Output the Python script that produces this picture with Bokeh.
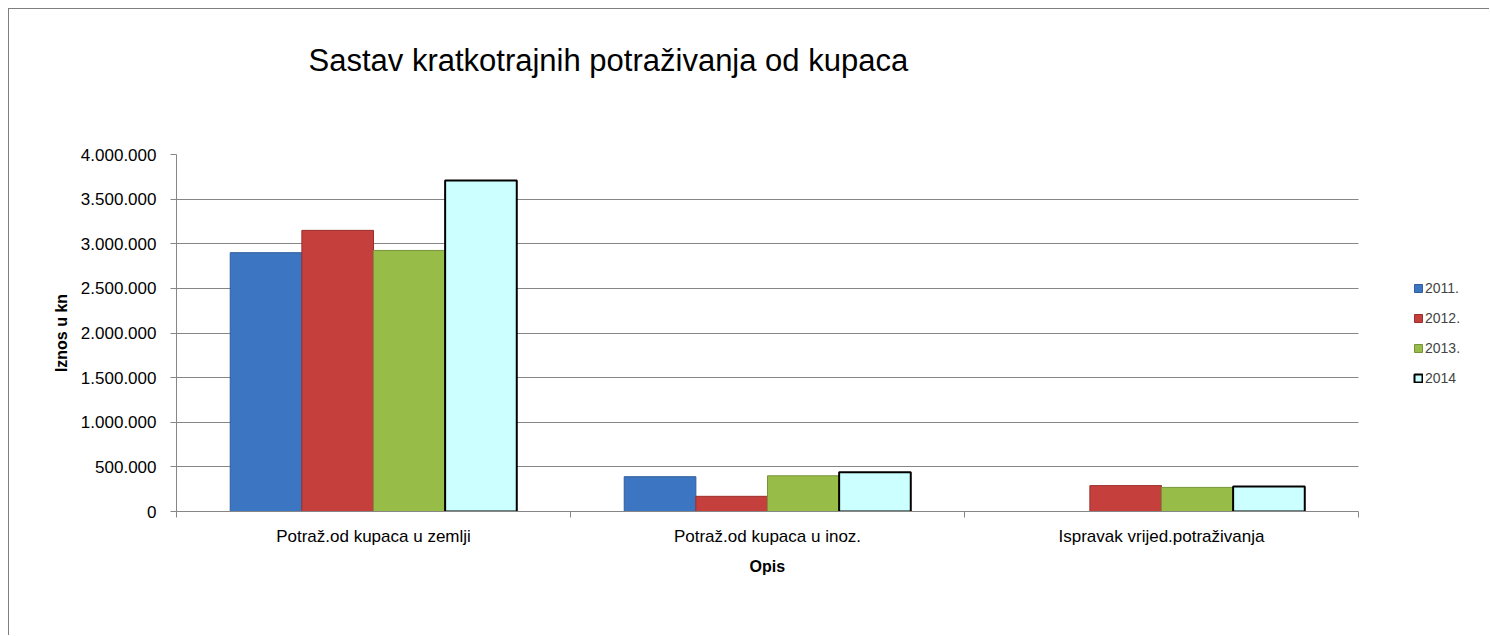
from bokeh.plotting import figure
from bokeh.models import (ColumnDataSource, Range1d, FixedTicker, Legend, LegendItem, Title)
from bokeh.transform import dodge
from bokeh.embed import file_html
from bokeh.resources import INLINE

# ---- data ----
title_text = "Sastav kratkotrajnih potraživanja od kupaca"
categories = ["Potraž.od kupaca u zemlji", "Potraž.od kupaca u inoz.", "Ispravak vrijed.potraživanja"]
years = ["2011.", "2012.", "2013.", "2014"]
v2011 = [2900000, 390000, 0]
v2012 = [3150000, 170000, 290000]
v2013 = [2925000, 400000, 270000]
v2014 = [3710000, 440000, 280000]
y_ticks = [0, 500000, 1000000, 1500000, 2000000, 2500000, 3000000, 3500000, 4000000]
y_tick_labels = ["0", "500.000", "1.000.000", "1.500.000", "2.000.000", "2.500.000",
                 "3.000.000", "3.500.000", "4.000.000"]
x_title = "Opis"
y_title = "Iznos u kn"

FONT = "Liberation Sans"
series = [v2011, v2012, v2013, v2014]
fills = ["#3C76C2", "#C53F3C", "#97BC47", "#CCFFFF"]
lines = ["#2F5E9C", "#9A302E", "#76933A", "#000000"]
lwidths = [1, 1, 1, 2]

ncat = len(categories)
# plot area: categories occupy 1182 px; the frame continues to the right edge (1314 px)
x_end = ncat * 1314 / 1182

xc = [i + 0.5 for i in range(ncat)]
src = ColumnDataSource(dict(x=xc, **{f"s{i}": s for i, s in enumerate(series)}))

p = figure(width=1481, height=627, output_backend="svg", toolbar_location=None,
           x_range=Range1d(0, x_end), y_range=Range1d(0, 4000000),
           min_border_left=167, min_border_right=0, min_border_top=145, min_border_bottom=125)
p.styles = {"margin-left": "8px", "margin-top": "8px",
            "border-left": "1px solid #7F7F7F", "border-top": "1px solid #7F7F7F"}
p.outline_line_color = None
p.background_fill_color = "white"
p.border_fill_color = "white"

bw = 1 / 5.5
renderers = []
for i, s in enumerate(series):
    off = (i - 1.5) * bw
    r = p.vbar(x=dodge("x", off), top=f"s{i}", width=bw, bottom=0, source=src,
               fill_color=fills[i], line_color=lines[i], line_width=lwidths[i])
    renderers.append(r)

# axes
xa = p.xaxis[0]
xa.bounds = (0, ncat)
xa.ticker = FixedTicker(ticks=xc, minor_ticks=list(range(ncat + 1)))
xa.major_label_overrides = {x: c for x, c in zip(xc, categories)}
xa.major_tick_line_color = None
xa.major_tick_in = 0
xa.major_tick_out = 0
xa.minor_tick_in = 0
xa.minor_tick_out = 6
xa.minor_tick_line_color = "#868686"
xa.axis_line_color = "#868686"
xa.major_label_text_font = FONT
xa.major_label_text_font_size = "17px"
xa.major_label_text_color = "black"
xa.major_label_standoff = 9

ya = p.yaxis[0]
ya.ticker = FixedTicker(ticks=y_ticks)
ya.major_label_overrides = {t: l for t, l in zip(y_ticks, y_tick_labels)}
ya.minor_tick_line_color = None
ya.major_tick_in = 0
ya.major_tick_out = 6
ya.major_tick_line_color = "#868686"
ya.axis_line_color = "#868686"
ya.major_label_text_font = FONT
ya.major_label_text_font_size = "17px"
ya.major_label_text_color = "black"
ya.major_label_standoff = 14
ya.axis_label = y_title
ya.axis_label_text_font = FONT
ya.axis_label_text_font_style = "bold"
ya.axis_label_text_font_size = "16px"
ya.axis_label_text_color = "black"
ya.axis_label_standoff = 8

p.xgrid.grid_line_color = None
p.ygrid.grid_line_color = "#868686"
p.ygrid.ticker = FixedTicker(ticks=y_ticks)
p.ygrid.cross_bounds = (0, ncat)

legend = Legend(items=[LegendItem(label=y, renderers=[r]) for y, r in zip(years, renderers)],
                location=(1237, 125), orientation="vertical",
                glyph_width=10, glyph_height=10, label_height=16, spacing=14,
                label_standoff=2, padding=0, margin=0,
                background_fill_alpha=0, border_line_color=None,
                label_text_font=FONT, label_text_font_size="14px")
p.add_layout(legend, "center")

# x axis title, centred under the category area
xtitle = Title(text=x_title, align="left", offset=573, standoff=14,
               text_font=FONT, text_font_size="16px", text_font_style="bold",
               text_color="black")
p.add_layout(xtitle, "below")

# spacer between plot area and chart title
spacer = Title(text=" ", standoff=64, text_font=FONT, text_font_size="10px")
p.add_layout(spacer, "above")
title = Title(text=title_text, align="left", offset=132, standoff=0,
              text_font=FONT, text_font_size="31px", text_font_style="normal",
              text_color="black")
p.add_layout(title, "above")

open("out.html", "w").write(file_html(p, INLINE))
